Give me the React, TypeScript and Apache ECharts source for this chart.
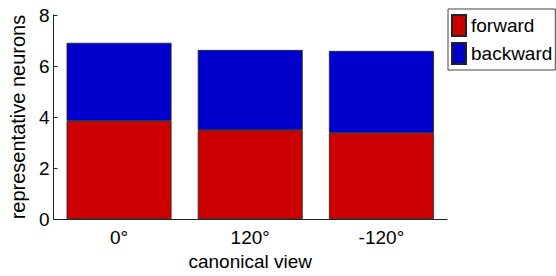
import React, { useEffect, useRef } from "react";
import * as echarts from "echarts";

const categories = ["0°", "120°", "-120°"];
const forwardValues = [3.85, 3.49, 3.38];
const backwardValues = [3.06, 3.14, 3.21];
const yTicks = [0, 2, 4, 6, 8];

const FONT = "'Liberation Sans', Arial, Helvetica, sans-serif";

export default function App() {
  const ref = useRef<HTMLDivElement>(null);
  useEffect(() => {
    if (!ref.current) return;
    const chart = echarts.init(ref.current, undefined, { renderer: "svg" });
    chart.setOption({
      animation: false,
      textStyle: { fontFamily: FONT },
      grid: { left: 42, right: 109, top: 15, bottom: 53 },
      legend: {
        left: 448,
        top: 9,
        orient: "vertical",
        padding: [5, 3, 5, 3],
        itemGap: 5,
        itemWidth: 14,
        itemHeight: 21,
        borderColor: "#444",
        borderWidth: 1,
        icon: "rect",
        textStyle: { fontSize: 19, color: "#000", fontFamily: FONT },
        data: ["forward", "backward"],
      },
      xAxis: {
        type: "category",
        data: categories,
        name: "canonical view",
        nameLocation: "middle",
        nameGap: 29,
        nameTextStyle: { fontSize: 19, color: "#000", fontFamily: FONT },
        axisLine: { lineStyle: { color: "#222", width: 1 } },
        axisTick: { inside: true, length: 4, lineStyle: { color: "#222" } },
        axisLabel: { fontSize: 19, color: "#000", margin: 9, fontFamily: FONT },
        splitLine: { show: false },
      },
      yAxis: {
        type: "value",
        min: yTicks[0],
        max: yTicks[yTicks.length - 1],
        interval: yTicks[1] - yTicks[0],
        name: "representative neurons",
        nameLocation: "middle",
        nameGap: 18,
        nameTextStyle: { fontSize: 20, color: "#000", fontFamily: FONT },
        axisLine: { show: true, lineStyle: { color: "#222", width: 1 } },
        axisTick: { show: true, inside: true, length: 4, lineStyle: { color: "#222" } },
        axisLabel: { fontSize: 19, color: "#000", margin: 4, fontFamily: FONT },
        splitLine: { show: false },
      },
      series: [
        {
          name: "forward",
          type: "bar",
          stack: "total",
          barWidth: "80%",
          data: forwardValues,
          itemStyle: { color: "#CC0000", borderColor: "#222", borderWidth: 0.8 },
        },
        {
          name: "backward",
          type: "bar",
          stack: "total",
          barWidth: "80%",
          data: backwardValues,
          itemStyle: { color: "#0000CC", borderColor: "#222", borderWidth: 0.8 },
        },
      ],
    });
    return () => chart.dispose();
  }, []);
  return (
    <div
      ref={ref}
      style={{ position: "fixed", left: 0, top: 0, width: 556, height: 276, background: "#fff" }}
    />
  );
}
